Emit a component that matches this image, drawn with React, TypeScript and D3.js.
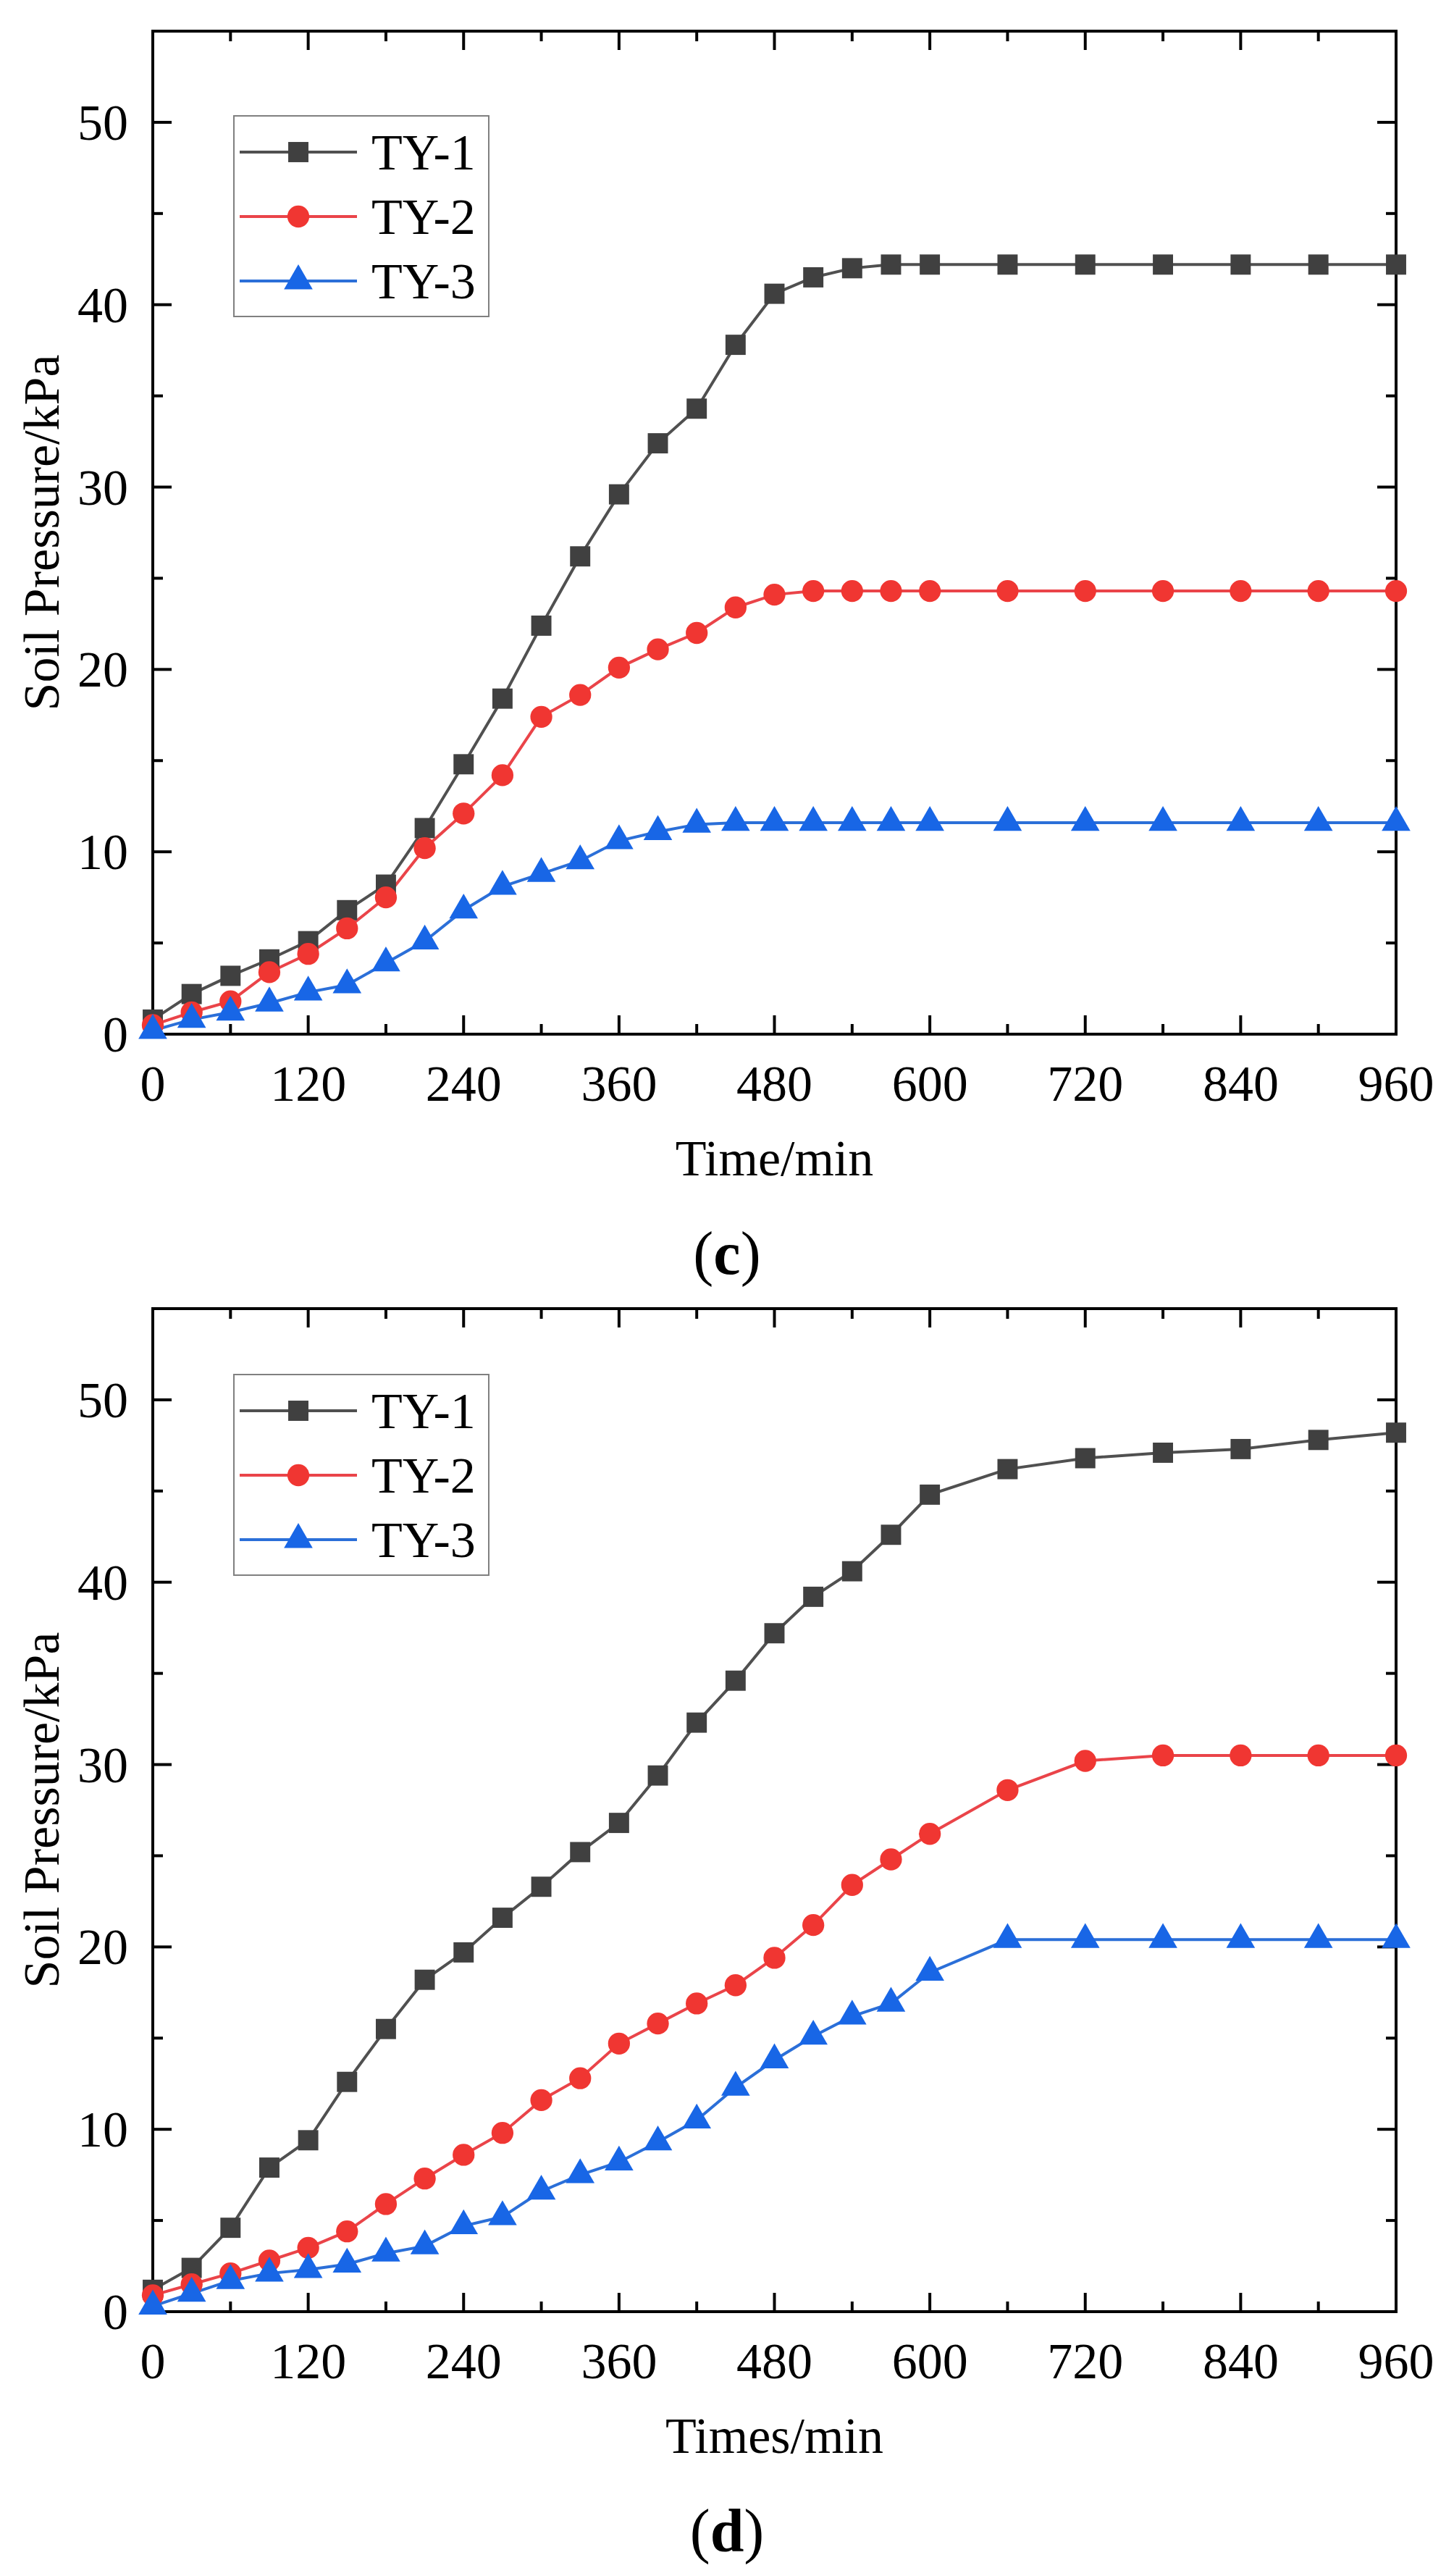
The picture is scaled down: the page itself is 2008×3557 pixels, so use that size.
import { useEffect, useRef } from 'react';
import * as d3 from 'd3';

// time points (min), same for both panels
const timeC = [0, 30, 60, 90, 120, 150, 180, 210, 240, 270, 300, 330, 360, 390, 420, 450, 480, 510, 540, 570, 600, 660, 720, 780, 840, 900, 960];
const timeD = [0, 30, 60, 90, 120, 150, 180, 210, 240, 270, 300, 330, 360, 390, 420, 450, 480, 510, 540, 570, 600, 660, 720, 780, 840, 900, 960];

// panel (c)
const ty1C = [0.8, 2.2, 3.2, 4.1, 5.1, 6.8, 8.2, 11.3, 14.8, 18.4, 22.4, 26.2, 29.6, 32.4, 34.3, 37.8, 40.6, 41.5, 42.0, 42.2, 42.2, 42.2, 42.2, 42.2, 42.2, 42.2, 42.2];
const ty2C = [0.5, 1.2, 1.8, 3.4, 4.4, 5.8, 7.5, 10.2, 12.1, 14.2, 17.4, 18.6, 20.1, 21.1, 22.0, 23.4, 24.1, 24.3, 24.3, 24.3, 24.3, 24.3, 24.3, 24.3, 24.3, 24.3, 24.3];
const ty3C = [0.2, 0.8, 1.2, 1.7, 2.3, 2.7, 3.9, 5.1, 6.8, 8.1, 8.8, 9.5, 10.6, 11.1, 11.5, 11.6, 11.6, 11.6, 11.6, 11.6, 11.6, 11.6, 11.6, 11.6, 11.6, 11.6, 11.6];

// panel (d)
const ty1D = [1.2, 2.4, 4.6, 7.9, 9.4, 12.6, 15.5, 18.2, 19.7, 21.6, 23.3, 25.2, 26.8, 29.4, 32.3, 34.6, 37.2, 39.2, 40.6, 42.6, 44.8, 46.2, 46.8, 47.1, 47.3, 47.8, 48.2];
const ty2D = [0.9, 1.5, 2.1, 2.8, 3.5, 4.4, 5.9, 7.3, 8.6, 9.8, 11.6, 12.8, 14.7, 15.8, 16.9, 17.9, 19.4, 21.2, 23.4, 24.8, 26.2, 28.6, 30.2, 30.5, 30.5, 30.5, 30.5];
const ty3D = [0.3, 1.0, 1.7, 2.1, 2.3, 2.6, 3.2, 3.6, 4.7, 5.2, 6.6, 7.5, 8.2, 9.3, 10.5, 12.3, 13.8, 15.1, 16.2, 16.9, 18.6, 20.4, 20.4, 20.4, 20.4, 20.4, 20.4];

const seriesNames = ['TY-1', 'TY-2', 'TY-3'];
const xTicks = [0, 120, 240, 360, 480, 600, 720, 840, 960];
const yTicks = [0, 10, 20, 30, 40, 50];

const styles = [
  { line: '#505050', fill: '#404040', symbol: d3.symbolSquare, size: 780 },
  { line: '#ea4449', fill: '#f03632', symbol: d3.symbolCircle, size: 720 },
  { line: '#2b6fd8', fill: '#1866e6', symbol: d3.symbolTriangle, size: 680 },
];

const FONT = '"Liberation Serif", "Times New Roman", serif';

export default function App() {
  const svgRef = useRef<SVGSVGElement>(null);

  useEffect(() => {
    if (!svgRef.current) return;
    const svg = d3.select(svgRef.current);
    svg.selectAll('*').remove();

    const left = 211;
    const innerW = 1717;
    const innerH = 1385;

    const drawPanel = (
      top: number,
      time: number[],
      values: number[][],
      xLabel: string,
      tag: string,
      legendTop: number,
    ) => {
      const g = svg.append('g').attr('transform', `translate(${left},${top})`);
      const x = d3.scaleLinear().domain([0, 960]).range([0, innerW]);
      const y = d3.scaleLinear().domain([0, 55]).range([innerH, 0]);

      // ticks on all four sides, pointing inward
      const tickG = g.append('g').attr('stroke', '#000').attr('stroke-width', 4);
      d3.range(0, 961, 60).forEach(t => {
        const len = t % 120 === 0 ? 26 : 14;
        tickG.append('line').attr('x1', x(t)).attr('x2', x(t)).attr('y1', innerH).attr('y2', innerH - len);
        tickG.append('line').attr('x1', x(t)).attr('x2', x(t)).attr('y1', 0).attr('y2', len);
      });
      d3.range(0, 56, 5).forEach(v => {
        const len = v % 10 === 0 ? 26 : 14;
        tickG.append('line').attr('x1', 0).attr('x2', len).attr('y1', y(v)).attr('y2', y(v));
        tickG.append('line').attr('x1', innerW).attr('x2', innerW - len).attr('y1', y(v)).attr('y2', y(v));
      });

      g.append('rect')
        .attr('width', innerW)
        .attr('height', innerH)
        .attr('fill', 'none')
        .attr('stroke', '#000')
        .attr('stroke-width', 4);

      // tick labels
      g.selectAll('.xt')
        .data(xTicks)
        .enter()
        .append('text')
        .attr('x', d => x(d))
        .attr('y', innerH + 92)
        .attr('text-anchor', 'middle')
        .attr('font-family', FONT)
        .attr('font-size', 70)
        .text(d => `${d}`);

      g.selectAll('.yt')
        .data(yTicks)
        .enter()
        .append('text')
        .attr('x', -34)
        .attr('y', d => y(d) + 24)
        .attr('text-anchor', 'end')
        .attr('font-family', FONT)
        .attr('font-size', 70)
        .text(d => `${d}`);

      // axis titles
      g.append('text')
        .attr('x', innerW / 2)
        .attr('y', innerH + 195)
        .attr('text-anchor', 'middle')
        .attr('font-family', FONT)
        .attr('font-size', 70)
        .text(xLabel);

      g.append('text')
        .attr('transform', `translate(${81 - left},${innerH / 2}) rotate(-90)`)
        .attr('text-anchor', 'middle')
        .attr('font-family', FONT)
        .attr('font-size', 70)
        .text('Soil Pressure/kPa');

      // panel tag, centred on the page
      const tagText = g.append('text')
        .attr('x', 1004 - left)
        .attr('y', innerH + 331)
        .attr('text-anchor', 'middle')
        .attr('font-family', FONT)
        .attr('font-size', 84);
      tagText.append('tspan').text('(');
      tagText.append('tspan').attr('font-weight', 'bold').text(tag);
      tagText.append('tspan').text(')');

      // series
      values.forEach((vals, i) => {
        const pts = time.map((t, j) => [t, vals[j]] as [number, number]);
        const line = d3.line<[number, number]>()
          .x(d => x(d[0]))
          .y(d => y(d[1]));
        g.append('path')
          .datum(pts)
          .attr('fill', 'none')
          .attr('stroke', styles[i].line)
          .attr('stroke-width', 4)
          .attr('d', line);
      });
      values.forEach((vals, i) => {
        const sym = d3.symbol().type(styles[i].symbol).size(styles[i].size);
        g.selectAll(`.m${i}`)
          .data(time.map((t, j) => [t, vals[j]]))
          .enter()
          .append('path')
          .attr('transform', d => `translate(${x(d[0])},${y(d[1])})`)
          .attr('fill', styles[i].fill)
          .attr('d', sym);
      });

      // legend
      const lg = g.append('g').attr('transform', `translate(${323 - left},${legendTop})`);
      lg.append('rect')
        .attr('width', 352)
        .attr('height', 277)
        .attr('fill', '#fff')
        .attr('stroke', '#808080')
        .attr('stroke-width', 2);
      seriesNames.forEach((name, i) => {
        const ry = 50 + i * 89;
        lg.append('line')
          .attr('x1', 8)
          .attr('x2', 170)
          .attr('y1', ry)
          .attr('y2', ry)
          .attr('stroke', styles[i].line)
          .attr('stroke-width', 4);
        lg.append('path')
          .attr('transform', `translate(89,${ry})`)
          .attr('fill', styles[i].fill)
          .attr('d', d3.symbol().type(styles[i].symbol).size(styles[i].size));
        lg.append('text')
          .attr('x', 190)
          .attr('y', ry + 24)
          .attr('font-family', FONT)
          .attr('font-size', 70)
          .text(name);
      });
    };

    drawPanel(43, timeC, [ty1C, ty2C, ty3C], 'Time/min', 'c', 117);
    drawPanel(1807, timeD, [ty1D, ty2D, ty3D], 'Times/min', 'd', 91);
  }, []);

  return (
    <svg
      ref={svgRef}
      width={2008}
      height={3557}
      style={{ position: 'absolute', left: 0, top: 0, background: '#fff', display: 'block' }}
    />
  );
}
